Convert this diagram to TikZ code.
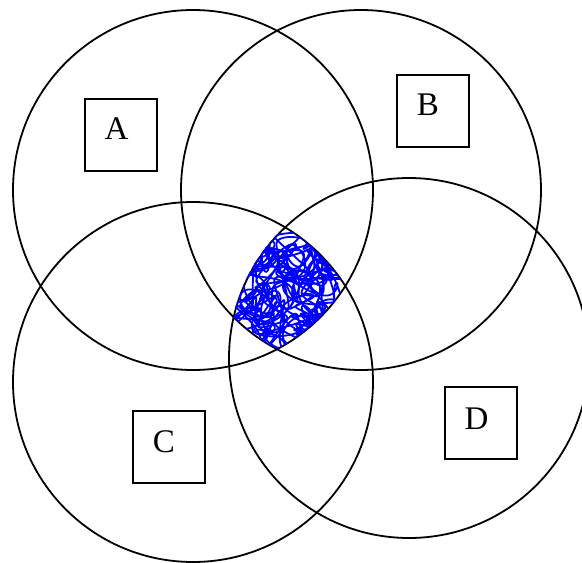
\documentclass[tikz,border=0pt]{standalone}
\usepackage{fontspec}
\setmainfont{Liberation Serif}
\begin{document}
\begin{tikzpicture}[x=1pt,y=-1pt,
  ring/.style={circle, draw=black, line width=1.8pt, minimum size=360pt, inner sep=0pt},
  setbox/.style={rectangle, draw=black, line width=2.2pt, minimum size=72pt, inner sep=0pt},
  setlabel/.style={font=\fontsize{33}{33}\selectfont, inner sep=0pt},
  scribble/.style={blue, line width=1.8pt, line join=round}]
\useasboundingbox (0,0) rectangle (582,563);
% circles
\node[ring] (cA) at (193,190) {};
\node[ring] (cB) at (361,190) {};
\node[ring] (cC) at (193,382) {};
\node[ring] (cD) at (409,358) {};
% boxes
\node[setbox] (bA) at (121,135) {};
\node[setbox] (bB) at (433,111) {};
\node[setbox] (bC) at (169,447) {};
\node[setbox] (bD) at (481,423) {};
% labels
\node[setlabel] (lA) at (116.5,128.5) {A};
\node[setlabel] (lB) at (428,105) {B};
\node[setlabel] (lC) at (164,441.5) {C};
\node[setlabel] (lD) at (476.5,418.5) {D};
% scribble in the common region
\begin{scope}
\clip (193,190) circle[radius=180pt];
\clip (361,190) circle[radius=180pt];
\clip (193,382) circle[radius=180pt];
\clip (409,358) circle[radius=181pt];
\foreach \p/\q in {0/0, 130/250, 250/100} {
\draw[scribble]
  plot[smooth, samples=2200, domain=0:360, variable=\t]
  ({290+38*sin(3*\t+\p)+14*sin(17*\t+20+\q)+8*sin(38*\t+50)+4*sin(43*\t+\p)},
   {290+42*cos(4*\t+\q)+13*cos(19*\t+70+\p)+8*cos(35*\t+\q)+4*cos(41*\t+10)});
}
\end{scope}
\end{tikzpicture}
\end{document}
